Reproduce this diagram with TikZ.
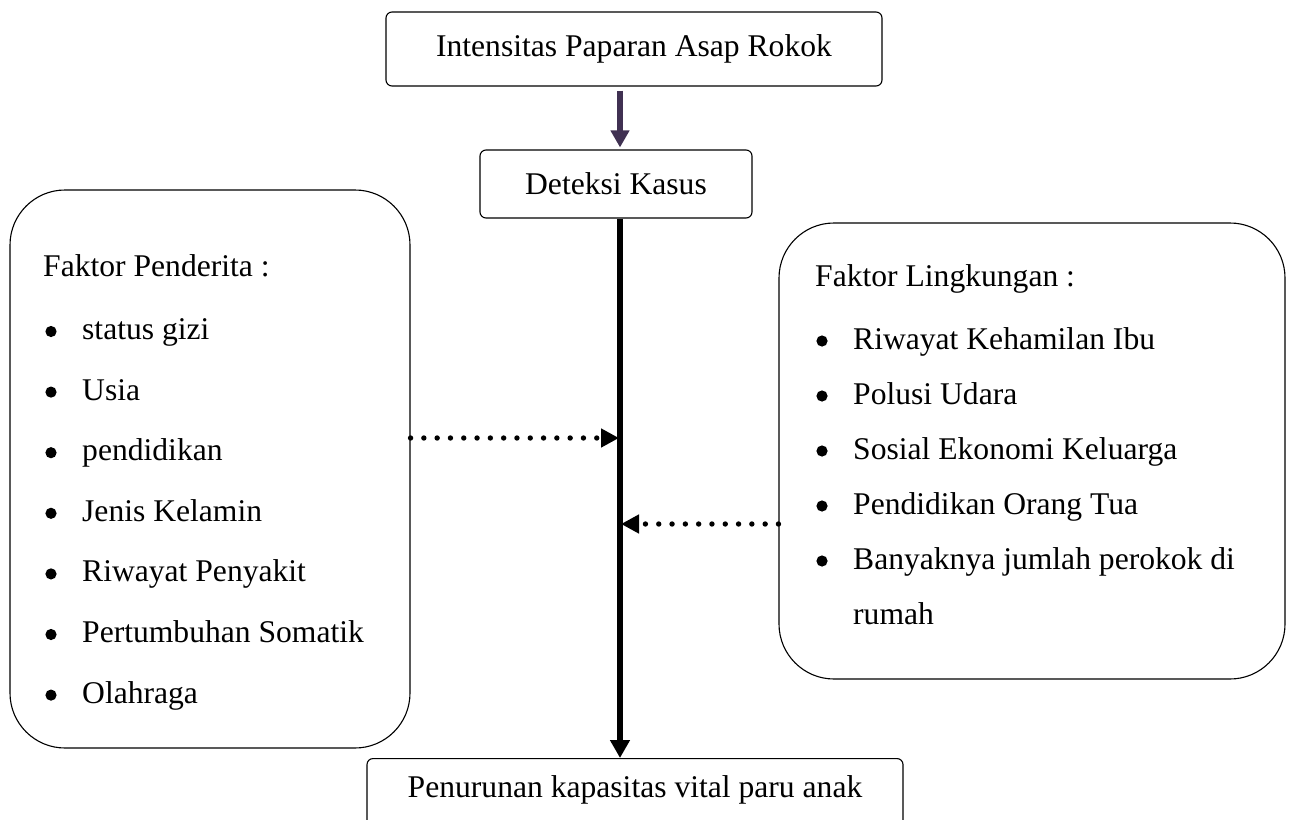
\documentclass[tikz,border=0pt]{standalone}
\usepackage{fontspec}
\setmainfont{Liberation Serif}
\usetikzlibrary{arrows.meta}
\definecolor{arrowpurple}{HTML}{403152}
\tikzset{
  every node/.style={font=\fontsize{31.6pt}{38pt}\selectfont, inner sep=0pt},
  smallbox/.style={draw, line width=1.1pt, rounded corners=6pt},
  bigbox/.style={draw, line width=1.1pt, rounded corners=55pt},
  txt/.style={anchor=base west},
  bul/.style={fill=black},
  purplearrow/.style={draw=arrowpurple, line width=6.5pt, -{Triangle[length=17pt,width=18pt,fill=arrowpurple]}},
  spinearrow/.style={draw=black, line width=6pt, -{Triangle[length=18pt,width=19pt]}},
  dotarrow/.style={draw=black, line width=5.4pt, line cap=round, dash pattern=on 0pt off 13.3pt, -{Triangle[length=18pt,width=18pt]}}
}
\begin{document}
\begin{tikzpicture}[x=1pt,y=-1pt]
\useasboundingbox (0,0) rectangle (1295,819);
% top boxes
\node[smallbox, minimum width=496pt, minimum height=74pt] (top) at (634,49) {Intensitas Paparan Asap Rokok};
\node[smallbox, minimum width=272pt, minimum height=68pt] (det) at (616,184) {Deteksi Kasus};
\node[smallbox, anchor=north, minimum width=536pt, minimum height=80pt, text height=20pt, text depth=22pt] (out) at (635,758) {Penurunan kapasitas vital paru anak};
% big boxes
\node[bigbox, minimum width=400pt, minimum height=558pt] (left) at (210,469) {};
\node[bigbox, minimum width=506pt, minimum height=456pt] (right) at (1032,451) {};
% left texts
\node[txt] (lh) at (43,276) {Faktor Penderita :};
\node[txt] (l1) at (82,339.5) {status gizi};
\node[txt] (l2) at (82,400.1) {Usia};
\node[txt] (l3) at (82,460.7) {pendidikan};
\node[txt] (l4) at (82,521.3) {Jenis Kelamin};
\node[txt] (l5) at (82,581.9) {Riwayat Penyakit};
\node[txt] (l6) at (82,642.5) {Pertumbuhan Somatik};
\node[txt] (l7) at (82,703.1) {Olahraga};
\foreach \y in {339.5,400.1,460.7,521.3,581.9,642.5,703.1} \fill[bul] (51,\y-8) circle (5.6pt);
% right texts
\node[txt] (rh) at (815,286) {Faktor Lingkungan :};
\node[txt] (r1) at (853,349) {Riwayat Kehamilan Ibu};
\node[txt] (r2) at (853,404) {Polusi Udara};
\node[txt] (r3) at (853,459) {Sosial Ekonomi Keluarga};
\node[txt] (r4) at (853,514) {Pendidikan Orang Tua};
\node[txt] (r5) at (853,569) {Banyaknya jumlah perokok di};
\node[txt] (r6) at (853,624) {rumah};
\foreach \y in {349,404,459,514,569} \fill[bul] (822,\y-8) circle (5.6pt);
% connectors
\coordinate (spine) at (620,0);
\coordinate (la) at (619,438);
\coordinate (ra) at (621,524);
\draw[purplearrow] ([yshift=-4pt]top.south -| spine) -- ([yshift=2pt]det.north -| spine);
\draw[spinearrow] (det.south -| spine) -- (out.north -| spine);
\draw[dotarrow] (la -| left.east) -- (la);
\draw[dotarrow] (ra -| right.west) -- (ra);
\end{tikzpicture}
\end{document}
